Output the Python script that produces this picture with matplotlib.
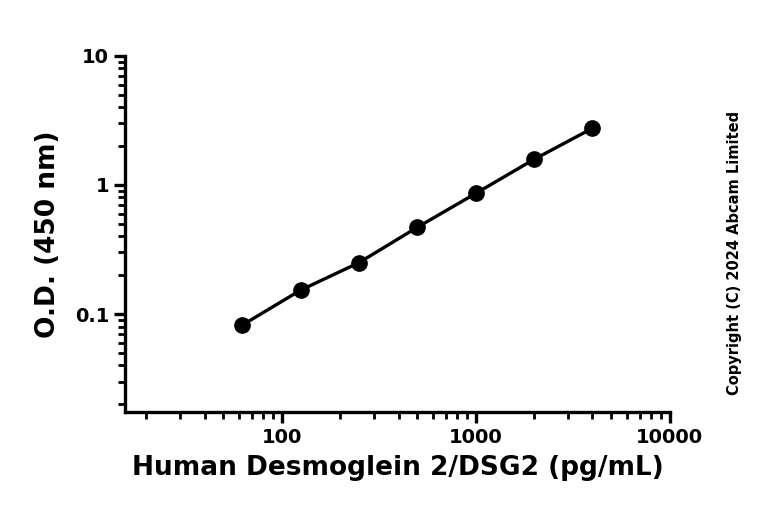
import matplotlib
matplotlib.use("Agg")
import matplotlib.pyplot as plt
from matplotlib.ticker import LogLocator, FixedLocator, NullFormatter

conc = [62.5, 125, 250, 500, 1000, 2000, 4000]
od = [0.082, 0.153, 0.25, 0.47, 0.86, 1.58, 2.75]
xticks = [100, 1000, 10000]
xlabels = ["100", "1000", "10000"]
yticks = [0.1, 1, 10]
ylabels = ["0.1", "1", "10"]

fig = plt.figure(figsize=(7.68, 5.27), dpi=100)
ax = fig.add_axes([0.163, 0.218, 0.709, 0.676])
ax.plot(conc, od, color="black", lw=2.4, marker="o", ms=11)
ax.set_xscale("log"); ax.set_yscale("log")
ax.set_xlim(15.6, 10000); ax.set_ylim(0.0174, 10)
ax.xaxis.set_major_locator(FixedLocator(xticks))
ax.set_xticklabels(xlabels)
ax.yaxis.set_major_locator(FixedLocator(yticks))
ax.set_yticklabels(ylabels)
ax.xaxis.set_minor_locator(LogLocator(base=10, subs=range(2, 10)))
ax.yaxis.set_minor_locator(LogLocator(base=10, subs=range(2, 10)))
ax.xaxis.set_minor_formatter(NullFormatter()); ax.yaxis.set_minor_formatter(NullFormatter())
for s in ["top", "right"]:
    ax.spines[s].set_visible(False)
for s in ["left", "bottom"]:
    ax.spines[s].set_linewidth(2.4)
ax.tick_params(which="major", width=2.4, length=8, labelsize=14)
ax.tick_params(which="minor", width=2.0, length=5)
for t in ax.get_xticklabels() + ax.get_yticklabels():
    t.set_fontweight("bold")
ax.set_xlabel("Human Desmoglein 2/DSG2 (pg/mL)", fontsize=19, fontweight="bold", labelpad=6)
ax.set_ylabel("O.D. (450 nm)", fontsize=19, fontweight="bold", labelpad=10)
fig.text(0.957, 0.52, "Copyright (C) 2024 Abcam Limited", rotation=90, fontsize=10.5,
         fontweight="bold", ha="center", va="center")
fig.savefig("out.png", dpi=100)
